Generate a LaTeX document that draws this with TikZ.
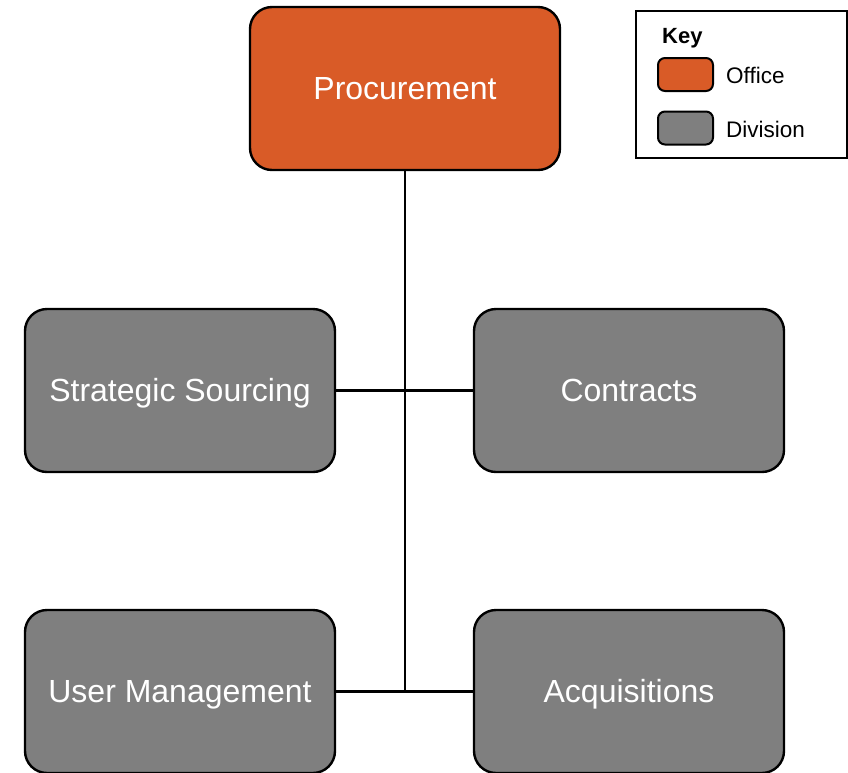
\documentclass[tikz,border=0pt]{standalone}
\usepackage{fontspec}
\setmainfont{Liberation Sans}
\definecolor{office}{HTML}{D95B27}
\definecolor{division}{HTML}{7F7F7F}
\begin{document}
\begin{tikzpicture}[x=1pt,y=-1pt,
  box/.style={draw=black,line width=2.4pt,rounded corners=22pt,minimum width=310pt,minimum height=163pt,inner sep=0pt,text=white,font=\fontsize{32}{38}\selectfont,text height=21pt,text depth=0pt},
  officebox/.style={box,fill=office},
  divbox/.style={box,fill=division},
  swatch/.style={draw=black,line width=2pt,rounded corners=7pt,minimum width=55pt,minimum height=33pt,inner sep=0pt},
  keytext/.style={font=\fontsize{22.5}{26}\selectfont,anchor=west,inner sep=0pt},
  conn/.style={line width=2.2pt}]
\useasboundingbox (0,0) rectangle (848,772);
\node[officebox] (proc) at (405,88.5) {Procurement};
\node[divbox] (ss) at (180,390.5) {Strategic Sourcing};
\node[divbox] (con) at (629,390.5) {Contracts};
\node[divbox] (um) at (180,691.5) {User Management};
\node[divbox] (acq) at (629,691.5) {Acquisitions};
\coordinate (j1) at (405,390.5);
\coordinate (j2) at (405,691.5);
\draw[conn] (proc.south) -- (j2);
\draw[conn] (ss.east) -- (con.west);
\draw[conn] (um.east) -- (acq.west);
% key
\node[draw=black,line width=1.2pt,minimum width=211pt,minimum height=147pt,inner sep=0pt] (key) at (741.5,84.5) {};
\node[keytext,font=\fontsize{22}{26}\selectfont\bfseries] (keyt) at (662,38) {Key};
\node[swatch,fill=office] (sw1) at (685.5,74.5) {};
\node[swatch,fill=division] (sw2) at (685.5,128) {};
\node[keytext] (l1) at (726,75.5) {Office};
\node[keytext] (l2) at (726,129) {Division};
\end{tikzpicture}
\end{document}
